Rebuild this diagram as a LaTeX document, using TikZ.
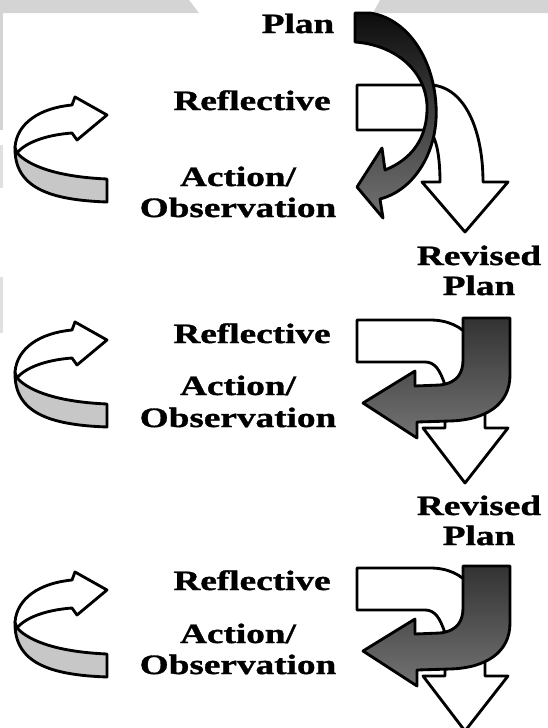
\documentclass[tikz,border=0pt]{standalone}
\usepackage{fontspec}
\setmainfont{Liberation Serif}[FakeStretch=1.33, BoldFeatures={FakeBold=1.2}]
\usepackage{tikz}
\tikzset{
  outl/.style={line width=1mm, line join=round},
  lbl/.style={font=\bfseries\fontsize{28}{30}\selectfont, inner sep=0pt, anchor=base},
}
% twisted ribbon arrow on the left, #1 = vertical offset
\def\ribbonarrow(#1){%
  \begin{scope}[shift={(0,#1)}]
    \draw[outl, fill=black!22] (17,153) .. controls (30,167) and (60,177) .. (107,179) -- (107,202) .. controls (50,200) and (14,188) .. (15,147) -- cycle;
    \draw[outl, fill=white] (15,147) .. controls (17,123) and (40,108) .. (72,105) -- (75,97) -- (107,115) -- (77,140) -- (72,133) .. controls (45,135) and (25,143) .. (17,153) -- cycle;
  \end{scope}}
% bent white and dark arrows of a revision step, #1 = vertical offset
\def\bendarrows(#1){%
  \begin{scope}[shift={(0,#1)}]
    \draw[outl, fill=white] (357,320) -- (430,320) .. controls (465,320) and (485,345) .. (485,390) -- (485,428) -- (508,428) -- (465,483) -- (423,428) -- (445,428) -- (445,385) .. controls (440,370) and (435,362) .. (425,362) -- (357,362) -- cycle;
    \shadedraw[outl, top color=black!80, bottom color=black!55] (463,318) -- (510,318) -- (510,375) .. controls (510,405) and (485,420) .. (450,421) -- (417,422) -- (417,438) -- (363,403) -- (415,371) -- (415,386) -- (440,385) .. controls (458,383) and (463,372) .. (463,360) -- cycle;
  \end{scope}}

\begin{document}
\begin{tikzpicture}[x=1pt, y=-1pt]
		%%%%% START %%%%%
		\clip (0,0) rectangle (548,728);
		
		\fill[black!17] (0,0) -- (189,0) -- (199,13) -- (0,13) -- cycle;
		\fill[black!17] (380,0) -- (548,0) -- (548,13) -- (373,13) -- cycle;
		\fill[black!17] (0,13) rectangle (3,130);
		\fill[black!12] (0,145) rectangle (3,188);
		\fill[black!12] (0,277) rectangle (3,333);
		
		% first cycle
		\draw[outl, fill=white] (357,85) -- (432,85) .. controls (465,88) and (483,130) .. (483,182) -- (508,182) -- (465,232) -- (422,182) -- (440,182) .. controls (440,155) and (436,135) .. (428,130) -- (357,130) -- cycle;
		\shadedraw[outl, top color=black!95, bottom color=black!55] (355,13) -- (370,13) .. controls (405,18) and (433,55) .. (436,105) .. controls (439,150) and (415,190) .. (380,199) -- (383,218) -- (357,187) -- (382,148) -- (385,170) .. controls (410,160) and (428,140) .. (427,105) .. controls (425,70) and (395,45) .. (355,42) -- cycle;
		\ribbonarrow(0)
		
		\node[lbl] (plan1) at (298,33) {Plan};
		\node[lbl] (refl1) at (252,110) {Reflective};
		\node[lbl] (act1) at (238,186) {Action/};
		\node[lbl] (obs1) at (238,217) {Observation};
		
		% second and third cycle
		\bendarrows(0)
		\bendarrows(248)
		\ribbonarrow(225)
		\ribbonarrow(475)
		
		\node[lbl] (rev2) at (479,265) {Revised};
		\node[lbl] (plan2) at (479,295) {Plan};
		\node[lbl] (refl2) at (252,343) {Reflective};
		\node[lbl] (act2) at (238,395) {Action/};
		\node[lbl] (obs2) at (238,427) {Observation};
		
		\node[lbl] (rev3) at (479,515) {Revised};
		\node[lbl] (plan3) at (479,545) {Plan};
		\node[lbl] (refl3) at (252,590) {Reflective};
		\node[lbl] (act3) at (238,643) {Action/};
		\node[lbl] (obs3) at (238,674) {Observation};
		
		%%%%% END %%%%%
	\end{tikzpicture}
\end{document}
